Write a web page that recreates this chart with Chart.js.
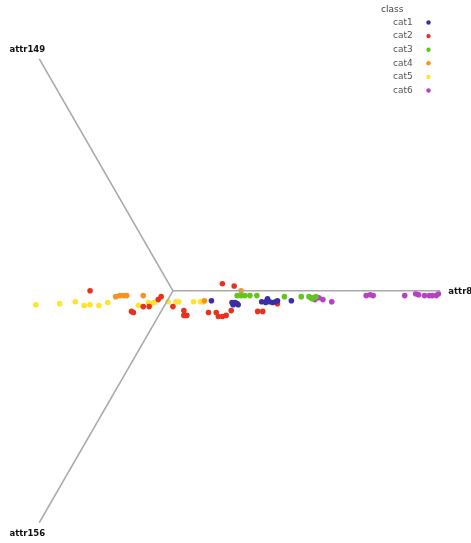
<!DOCTYPE html>
<html>
<head>
<meta charset="utf-8">
<script src="https://cdn.jsdelivr.net/npm/chart.js@4.4.1/dist/chart.umd.min.js"></script>
<style>
  html, body { margin: 0; padding: 0; background: #fff; }
  #wrap { width: 471px; height: 543px; position: relative; }
</style>
</head>
<body>
<div id="wrap"><canvas id="radviz" width="471" height="543"></canvas></div>
<script>
// dimension anchors, placed on the unit circle
const anchors = ['attr8', 'attr149', 'attr156'];
const anchorAngles = [0, 120, 240];

const classes = ['cat1', 'cat2', 'cat3', 'cat4', 'cat5', 'cat6'];
const classColors = ['#3b2ea5', '#e8321e', '#62c41c', '#f7921f', '#ffe32c', '#b83fc6'];

// projected positions per class (x, y)
const cat1 = [[0.144,-0.037],[0.221,-0.044],[0.232,-0.044],[0.225,-0.052],[0.240,-0.048],[0.244,-0.052],
  [0.332,-0.041],[0.347,-0.044],[0.351,-0.037],[0.354,-0.030],[0.362,-0.041],[0.373,-0.044],
  [0.384,-0.041],[0.391,-0.037],[0.443,-0.037]];
const cat2 = [[-0.310,0.000],[-0.155,-0.077],[-0.148,-0.081],[-0.111,-0.059],[-0.089,-0.059],[-0.055,-0.033],
  [-0.044,-0.022],[0.000,-0.059],[0.041,-0.074],[0.041,-0.092],[0.052,-0.092],[0.133,-0.081],
  [0.162,-0.081],[0.170,-0.096],[0.185,-0.096],[0.199,-0.092],[0.218,-0.074],[0.185,0.026],
  [0.229,0.018],[0.317,-0.077],[0.336,-0.077],[0.391,-0.048]];
const cat3 = [[0.240,-0.018],[0.255,-0.018],[0.269,-0.018],[0.288,-0.018],[0.314,-0.018],[0.417,-0.022],
  [0.480,-0.022],[0.509,-0.022],[0.517,-0.026],[0.520,-0.030],[0.528,-0.026],[0.535,-0.022]];
const cat4 = [[-0.214,-0.022],[-0.199,-0.018],[-0.185,-0.018],[-0.173,-0.018],[-0.111,-0.018],
  [0.118,-0.037],[0.255,0.000]];
const cat5 = [[-0.513,-0.052],[-0.424,-0.048],[-0.365,-0.041],[-0.332,-0.055],[-0.310,-0.052],[-0.277,-0.055],
  [-0.244,-0.044],[-0.129,-0.055],[-0.092,-0.044],[-0.081,-0.048],[-0.070,-0.044],[-0.018,-0.041],
  [0.011,-0.041],[0.022,-0.041],[0.077,-0.041],[0.103,-0.041],[0.114,-0.041]];
const cat6 = [[0.531,-0.033],[0.546,-0.026],[0.561,-0.033],[0.594,-0.041],[0.723,-0.018],[0.738,-0.015],
  [0.749,-0.018],[0.867,-0.018],[0.908,-0.011],[0.919,-0.015],[0.941,-0.018],[0.959,-0.018],
  [0.970,-0.018],[0.985,-0.018],[0.993,-0.011]];
const classPoints = [cat1, cat2, cat3, cat4, cat5, cat6];

const anchorXY = anchorAngles.map(a => ({
  x: Math.cos(a * Math.PI / 180),
  y: Math.sin(a * Math.PI / 180)
}));

const datasets = [];
anchorXY.forEach((p, i) => {
  datasets.push({
    label: anchors[i],
    type: 'line',
    data: [{x: 0, y: 0}, p],
    borderColor: '#a9a9a9',
    borderWidth: 1.6,
    pointRadius: 0,
    fill: false,
    isAxis: true
  });
});
classPoints.forEach((pts, i) => {
  datasets.push({
    label: classes[i],
    data: pts.map(p => ({x: p[0], y: p[1]})),
    backgroundColor: classColors[i],
    borderWidth: 0,
    pointRadius: 2.8,
    pointHoverRadius: 3.2
  });
});

// labels at the end of each axis
const anchorLabels = {
  id: 'anchorLabels',
  afterDatasetsDraw(chart) {
    const c = chart.ctx;
    const xs = chart.scales.x, ys = chart.scales.y;
    c.save();
    c.font = 'bold 8.5px "DejaVu Sans", sans-serif';
    c.fillStyle = '#111';
    c.textBaseline = 'middle';
    anchorXY.forEach((p, i) => {
      const px = xs.getPixelForValue(p.x), py = ys.getPixelForValue(p.y);
      if (p.x > 0) {
        c.textAlign = 'left';
        c.fillText(anchors[i], px + 8, py + 1);
      } else {
        c.textAlign = 'center';
        c.fillText(anchors[i], px - 12, p.y > 0 ? py - 9 : py + 11);
      }
    });
    c.restore();
  }
};

// class key in the top right corner, dot after the name
const classKey = {
  id: 'classKey',
  afterDraw(chart) {
    const c = chart.ctx;
    c.save();
    c.font = '9px "DejaVu Sans", sans-serif';
    c.fillStyle = '#444';
    c.textBaseline = 'middle';
    c.textAlign = 'left';
    c.fillText('class', 381, 10);
    classes.forEach((name, i) => {
      const y = 22.5 + i * 13.6;
      c.fillStyle = '#555';
      c.fillText(name, 393, y);
      c.fillStyle = classColors[i];
      c.beginPath();
      c.arc(428.5, y, 2.2, 0, Math.PI * 2);
      c.fill();
    });
    c.restore();
  }
};

new Chart(document.getElementById('radviz').getContext('2d'), {
  type: 'scatter',
  data: { datasets: datasets },
  options: {
    responsive: false,
    animation: false,
    layout: { padding: 0 },
    scales: {
      x: { display: false, min: -0.635, max: 1.103 },
      y: { display: false, min: -0.930, max: 1.074 }
    },
    plugins: {
      legend: { display: false },
      tooltip: { filter: item => !item.dataset.isAxis }
    }
  },
  plugins: [anchorLabels, classKey]
});
</script>
</body>
</html>
